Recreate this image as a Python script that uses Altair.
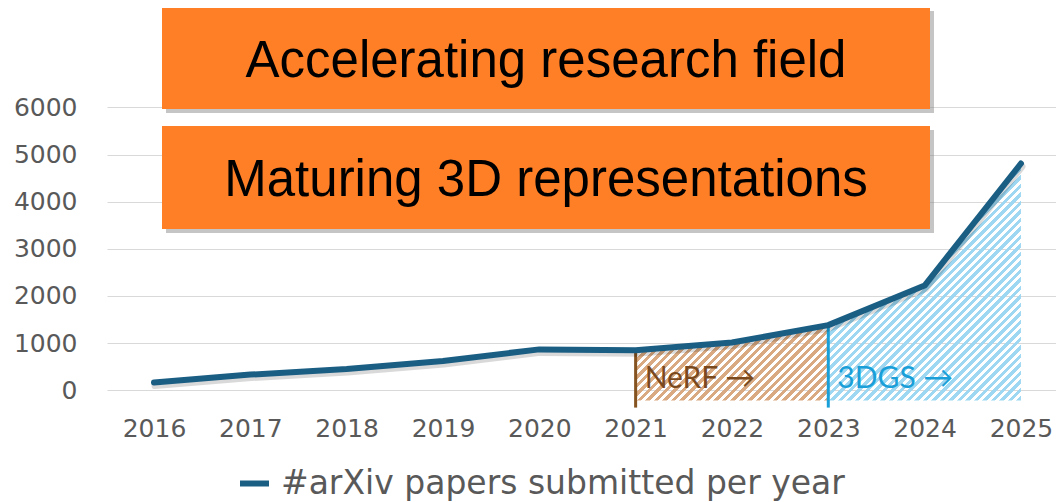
import altair as alt
import pandas as pd

# ---------------- data ----------------
years = [2016, 2017, 2018, 2019, 2020, 2021, 2022, 2023, 2024, 2025]
papers = [160, 330, 450, 620, 865, 845, 1010, 1380, 2220, 4810]
series_name = "#arXiv papers submitted per year"
y_ticks = [0, 1000, 2000, 3000, 4000, 5000, 6000]
box_titles = ["Accelerating research field", "Maturing 3D representations"]
era_labels = ["NeRF →", "3DGS →"]
era_starts = [2021, 2023]
era_ends = [2023, 2025]

# ---------------- layout / style ----------------
W, H = 949, 401
X_DOM = [2015.512, 2025.364]
Y_DOM = [-400, 8110]
HATCH_BASE = -220
RULE_BASE = -370
LINE_COLOR = "#1B5E84"
AXIS_GRAY = "#595959"
ORANGE = "#FF7F27"

df = pd.DataFrame({"year": years, "papers": papers, "series": series_name})

x_scale = alt.Scale(domain=X_DOM, nice=False, zero=False)
y_scale = alt.Scale(domain=Y_DOM, nice=False, zero=False)

x_axis = alt.Axis(values=years, format="d", grid=False, domain=False, ticks=False,
                  tickSize=0, labelFont="DejaVu Sans", labelFontSize=25,
                  labelColor=AXIS_GRAY, labelPadding=27, labelBaseline="alphabetic",
                  labelFlush=False, labelOverlap=False, title=None)
y_axis = alt.Axis(values=y_ticks, format="d", grid=True, gridColor="#D9D9D9",
                  gridWidth=1, domain=False, ticks=False, tickSize=0,
                  labelFont="DejaVu Sans", labelFontSize=25, labelColor=AXIS_GRAY,
                  labelPadding=30, labelFlush=False, labelOverlap=False, title=None)


def X(field="year"):
    return alt.X(f"{field}:Q", scale=x_scale, axis=x_axis, title=None)


def Y(field="papers"):
    return alt.Y(f"{field}:Q", scale=y_scale, axis=y_axis, title=None)


def xpx(v):
    return W * (v - X_DOM[0]) / (X_DOM[1] - X_DOM[0])


def ypx(v):
    return H * (Y_DOM[1] - v) / (Y_DOM[1] - Y_DOM[0])


def hatch(start, end, color, period=8.5, frac=0.5):
    vals = [p for yr, p in zip(years, papers) if start <= yr <= end]
    w = xpx(end) - xpx(start)
    h = ypx(HATCH_BASE) - ypx(max(vals))
    r = h / w
    k = (1 + r) / (1 + r * r)
    dt = period / (w + h)
    clear = "rgba(255,255,255,0)"
    stops = []
    t = 0.0
    while t < 1.0:
        a = min(t + frac * dt, 1.0)
        b = min(t + dt, 1.0)
        stops += [
            alt.GradientStop(offset=round(t, 5), color=color),
            alt.GradientStop(offset=round(a, 5), color=color),
            alt.GradientStop(offset=round(a, 5), color=clear),
            alt.GradientStop(offset=round(b, 5), color=clear),
        ]
        t += dt
    return alt.LinearGradient(gradient="linear", stops=stops,
                              x1=0, y1=0, x2=k, y2=k * r)


base = alt.Chart(df)

axes_layer = base.mark_point(opacity=0).encode(x=X(), y=Y())


def era_layers(start, end, label, rule_color, hatch_color, text_color):
    sub = base.transform_filter(
        (alt.datum.year >= start) & (alt.datum.year <= end))
    area = sub.mark_area(fill=hatch(start, end, hatch_color)).encode(
        x=X(), y=Y(), y2=alt.datum(HATCH_BASE),
    )
    rule = base.transform_filter(alt.datum.year == start).mark_rule(
        color=rule_color, strokeWidth=3).encode(
        x=X(), y=Y(), y2=alt.datum(RULE_BASE),
    )
    txt = alt.Chart(pd.DataFrame({"label": [label], "year": [start]})).mark_text(
        align="left", baseline="alphabetic", dx=9, font="Lato", fontSize=30,
        color=text_color).encode(
        x=X(), y=alt.value(380), text="label:N",
    )
    return [area, rule, txt]


nerf = era_layers(era_starts[0], era_ends[0], era_labels[0],
                  "#84531F", "#D9AA82", "#7A4A1E")
gs = era_layers(era_starts[1], era_ends[1], era_labels[1],
                "#1AA0D8", "#9DD7F2", "#1A9FD8")

shadow = base.mark_line(color="#000000", opacity=0.15, strokeWidth=7,
                        strokeJoin="round", strokeCap="round",
                        xOffset=1, yOffset=3).encode(x=X(), y=Y())

line = base.mark_line(strokeWidth=6, strokeJoin="round", strokeCap="round").encode(
    x=X(), y=Y(),
    color=alt.Color("series:N", scale=alt.Scale(range=[LINE_COLOR]),
                    legend=alt.Legend(orient="none", legendX=130, legendY=458,
                                      title=None, symbolType="stroke",
                                      symbolSize=841, symbolStrokeWidth=6,
                                      labelFont="DejaVu Sans", labelFontSize=33,
                                      labelColor=AXIS_GRAY, labelOffset=9,
                                      labelLimit=1000, padding=0)),
)

box_layers = []
box_y = [(-1, 101), (118, 221)]
for title, (y0, y1) in zip(box_titles, box_y):
    bdf = pd.DataFrame({"title": [title]})
    sh = alt.Chart(bdf).mark_rect(color="#7F7F7F", opacity=0.45).encode(
        x=alt.value(59), x2=alt.value(827), y=alt.value(y0 + 4), y2=alt.value(y1 + 4))
    rc = alt.Chart(bdf).mark_rect(color=ORANGE).encode(
        x=alt.value(55), x2=alt.value(823), y=alt.value(y0), y2=alt.value(y1))
    tx = alt.Chart(bdf).mark_text(font="Liberation Sans", fontSize=51, color="black",
                                  align="center", baseline="alphabetic").encode(
        x=alt.value(439), y=alt.value(y0 + 70), text="title:N")
    box_layers += [sh, rc, tx]

chart = alt.layer(
    axes_layer, *nerf[:2], *gs[:2], nerf[2], gs[2], shadow, line, *box_layers
).properties(
    width=W, height=H,
    autosize=alt.AutoSizeParams(type="none"),
    padding={"left": 99, "top": 0, "right": 0, "bottom": 92},
    background="white",
).configure_view(stroke=None)

chart.save("out.html", embed_options={"renderer": "svg", "actions": False})
